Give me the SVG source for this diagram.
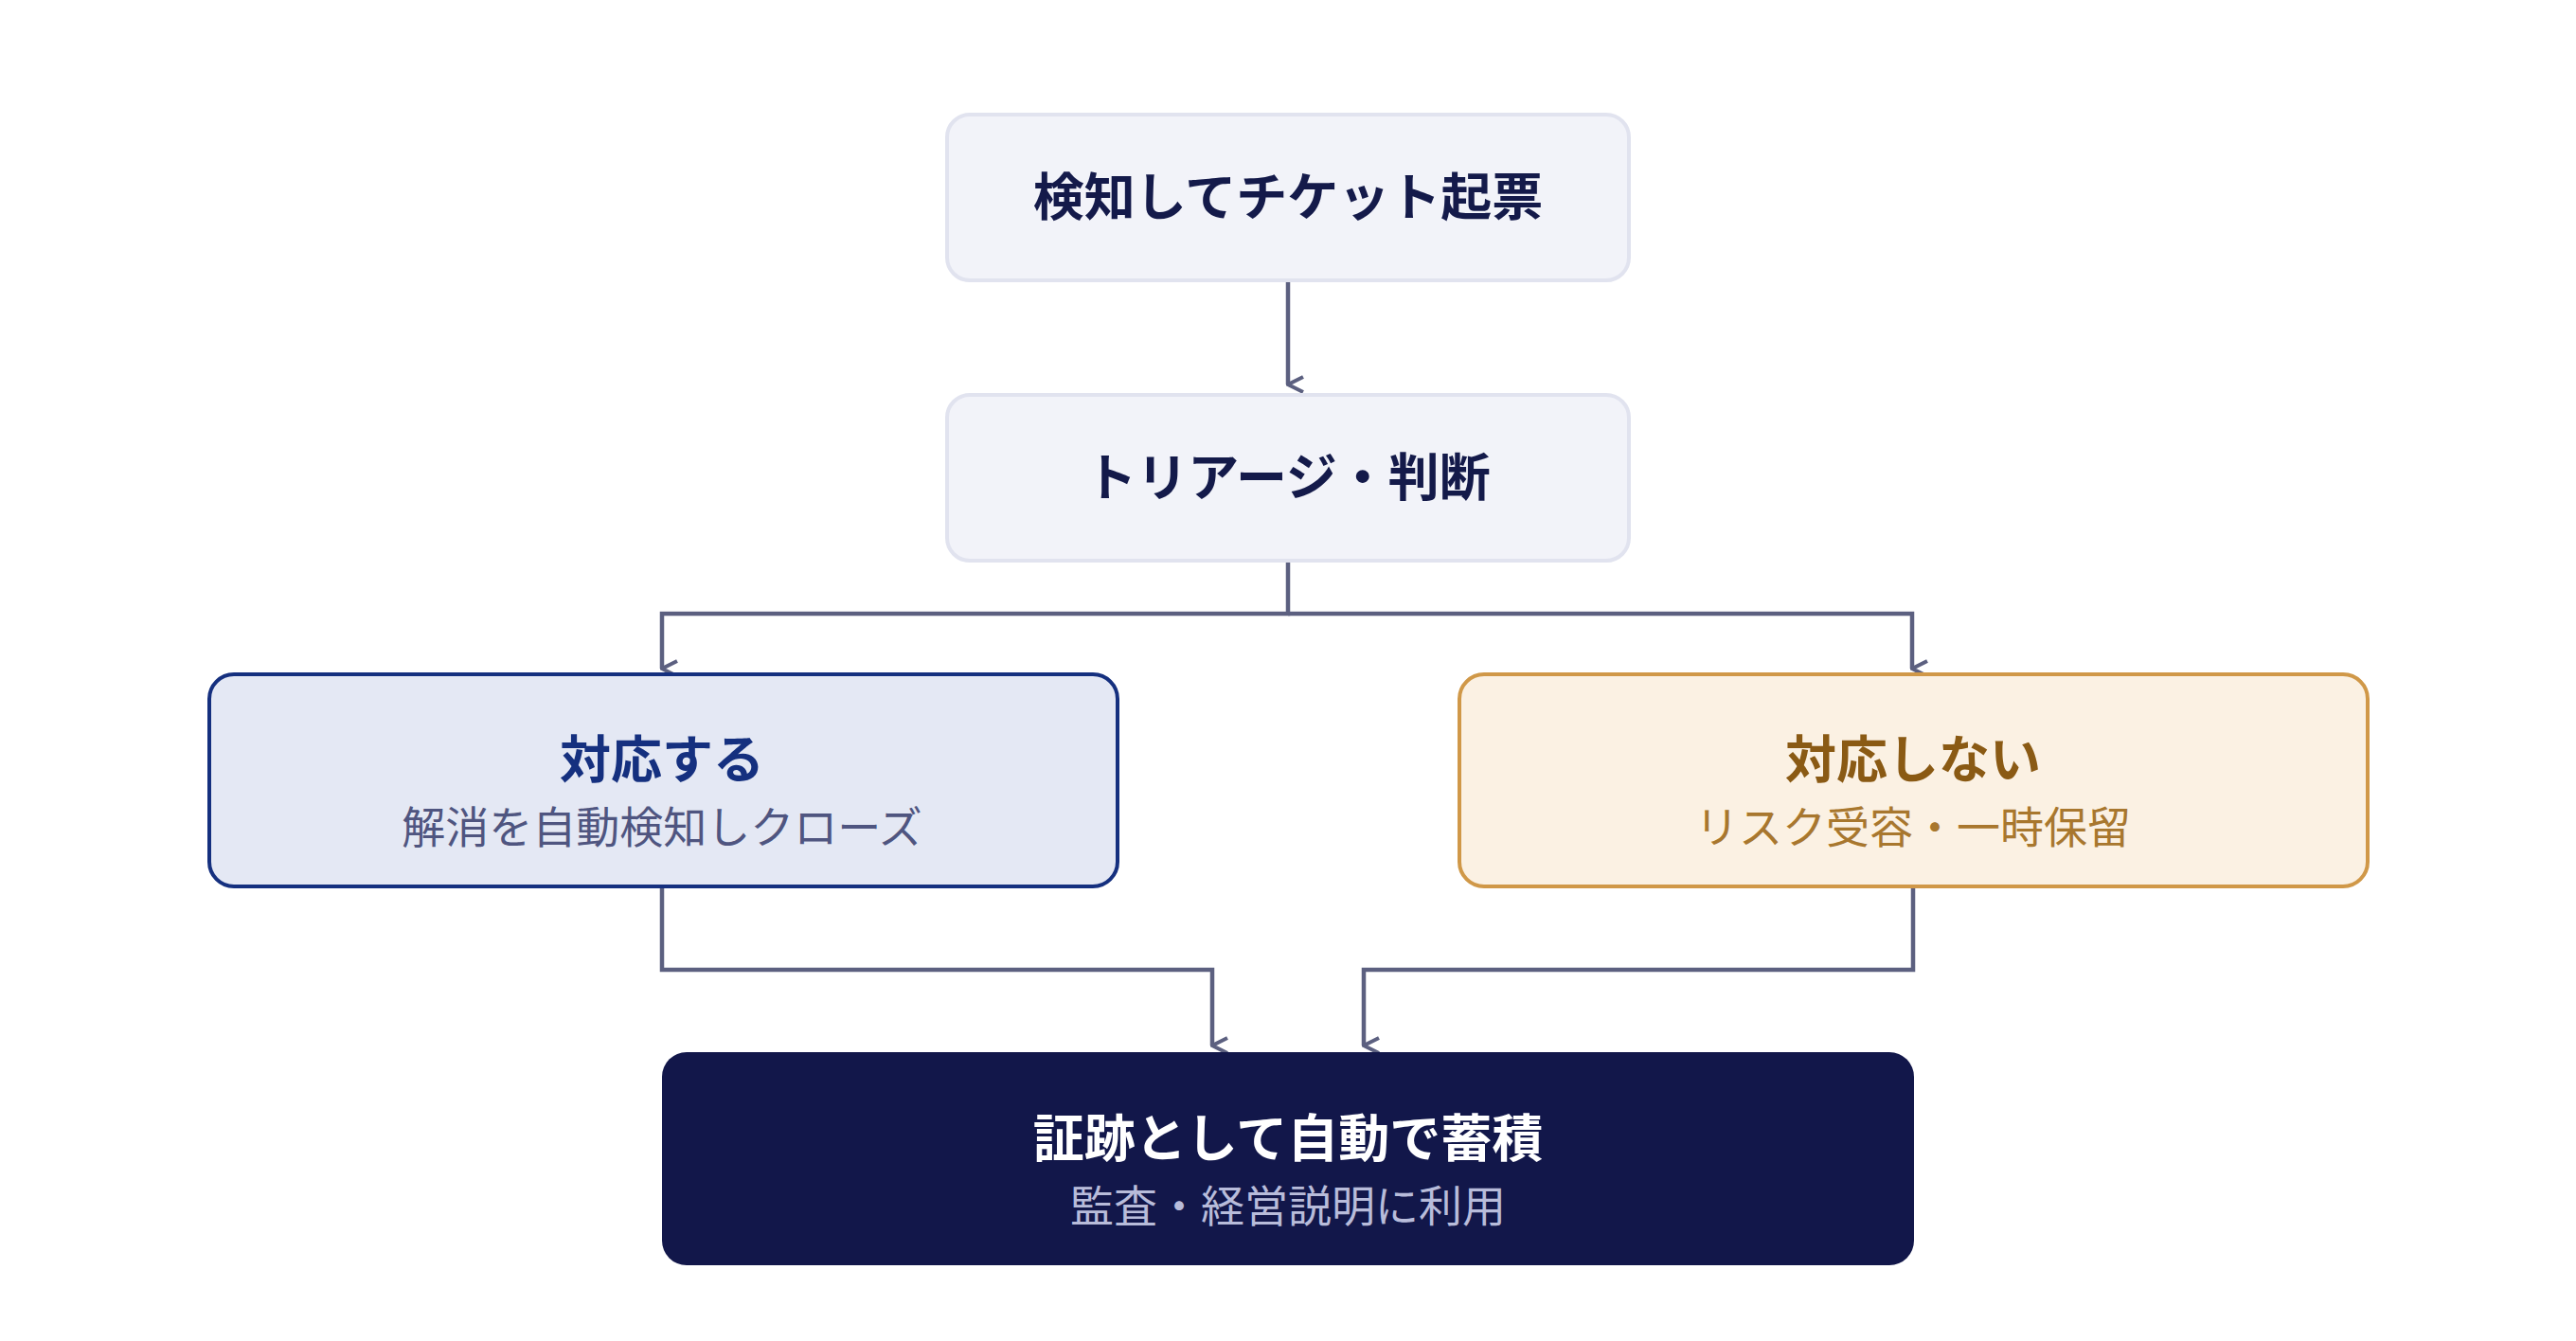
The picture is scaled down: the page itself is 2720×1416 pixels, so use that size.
<svg xmlns="http://www.w3.org/2000/svg" width="2720" height="1416" viewBox="0 0 2720 1416">
<defs>
<style>
text{font-family:"Noto Sans CJK JP","Noto Sans",sans-serif;text-anchor:middle}
.t{font-size:54px;font-weight:700}
.s{font-size:46px;font-weight:400}
.c{fill:none;stroke:#5C6080;stroke-width:4.5}
</style>
<marker id="a" viewBox="0 0 20 20" refX="10" refY="18" markerWidth="20" markerHeight="20" markerUnits="userSpaceOnUse" orient="auto-start-reverse">
<path d="M2 2 L10 18 L18 2" fill="none" stroke="#5C6080" stroke-width="4"/>
</marker>
</defs>
<rect width="2720" height="1416" fill="#fff"/>
<g id="connectors">
<path class="c" d="M1360 296 V406" marker-end="url(#a)"/>
<path class="c" d="M1360 592 V648 H699 V706" marker-end="url(#a)"/>
<path class="c" d="M1360 648 H2019 V706" marker-end="url(#a)"/>
<path class="c" d="M699 936 V1024 H1280 V1104" marker-end="url(#a)"/>
<path class="c" d="M2020 936 V1024 H1440 V1104" marker-end="url(#a)"/>
</g>
<g id="n1">
<rect x="1000" y="121" width="720" height="175" rx="24" fill="#F2F3F9" stroke="#E1E3EF" stroke-width="4"/>
<text class="t" x="1360" y="228" fill="#141A4A">検知してチケット起票</text>
</g>
<g id="n2">
<rect x="1000" y="417" width="720" height="175" rx="24" fill="#F2F3F9" stroke="#E1E3EF" stroke-width="4"/>
<text class="t" x="1360" y="524" fill="#141A4A">トリアージ・判断</text>
</g>
<g id="n3">
<rect x="221" y="712" width="959" height="224" rx="26" fill="#E4E8F4" stroke="#15307F" stroke-width="4"/>
<text class="t" x="699" y="822" fill="#15307F">対応する</text>
<text class="s" x="699" y="890" fill="#4F5580">解消を自動検知しクローズ</text>
</g>
<g id="n4">
<rect x="1541" y="712" width="959" height="224" rx="26" fill="#FBF1E3" stroke="#D09848" stroke-width="4"/>
<text class="t" x="2020" y="822" fill="#8A5A14">対応しない</text>
<text class="s" x="2020" y="890" fill="#A8772E">リスク受容・一時保留</text>
</g>
<g id="n5">
<rect x="699" y="1111" width="1322" height="225" rx="26" fill="#12174A"/>
<text class="t" x="1360" y="1222" fill="#FFFFFF">証跡として自動で蓄積</text>
<text class="s" x="1360" y="1290" fill="#B8BCDA">監査・経営説明に利用</text>
</g>
</svg>
